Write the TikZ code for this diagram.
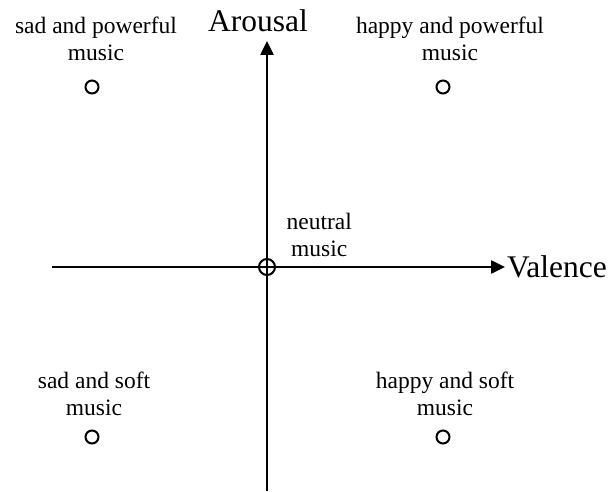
\documentclass[tikz,border=0pt]{standalone}
\usepackage{fontspec}
\setmainfont{Liberation Serif}
\usetikzlibrary{arrows.meta,positioning}

\begin{document}
\begin{tikzpicture}[x=1pt, y=1pt, >={Triangle[length=14pt, width=13pt]}]
\tikzset{
  axis/.style={->, line width=2.5pt},
  dot/.style={circle, draw, line width=2pt, inner sep=0pt, minimum size=13pt},
  origin/.style={circle, draw, line width=2pt, inner sep=0pt, minimum size=16pt},
  lab/.style={align=center, inner sep=0pt, font=\fontsize{23.5}{27}\selectfont},
  axlab/.style={inner sep=0pt, font=\fontsize{31.5}{36}\selectfont},
}
\useasboundingbox (0,0) rectangle (613,491);

\coordinate (O) at (267,224);
\coordinate (xl) at (52,224);
\coordinate (xr) at (505,224);
\coordinate (yb) at (267,0);
\coordinate (yt) at (267,450);

% axes
\draw[axis] (xl) -- (xr);
\draw[axis] (yb) -- (yt);
\node[axlab, right=2pt of xr] (val) {Valence};
\node[axlab, above=9pt of yt, xshift=-9pt] (aro) {Arousal};

% the five kinds of music
\node[dot] (sp) at (92,404) {};
\node[dot] (hp) at (443,404) {};
\node[dot] (ss) at (92,54) {};
\node[dot] (hs) at (443,54) {};
\node[origin] (nm) at (O) {};

\node[lab, above=19pt of sp, xshift=4pt] (sptext) {sad and powerful\\music};
\node[lab, above=19pt of hp, xshift=7pt] (hptext) {happy and powerful\\music};
\node[lab, above=14pt of ss, xshift=2pt] (sstext) {sad and soft\\music};
\node[lab, above=14pt of hs, xshift=2pt] (hstext) {happy and soft\\music};
\node[lab, above right=4pt and 13pt of nm] (nmtext) {neutral\\music};
\end{tikzpicture}
\end{document}
